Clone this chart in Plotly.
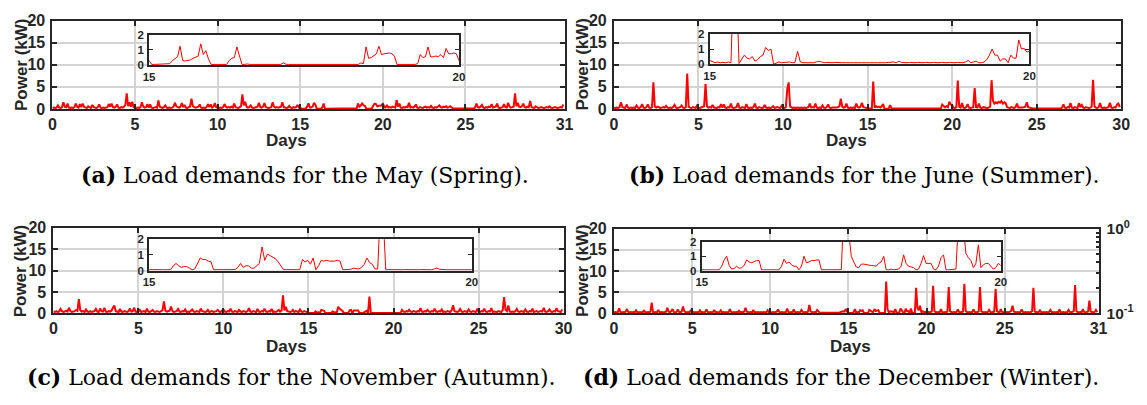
import numpy as np
import plotly.graph_objects as go

# Household load (kW), 2-hour samples, one row of 12 values per day
MAY_2H = [
    [0.2,0.3,0.2,0.3,0.8,0.3,0.2,0.4,1.5,0.5,0.4,1.2],
    [0.3,0.2,0.3,0.2,0.4,1.2,0.5,0.3,1.1,0.4,1.2,0.5],
    [0.3,0.2,0.6,0.3,0.2,0.9,0.4,0.3,0.2,0.4,1.0,0.3],
    [0.2,0.3,0.2,0.3,0.4,1.1,0.5,1.2,0.4,0.3,0.5,1.0],
    [0.3,0.2,0.4,0.3,0.5,0.9,3.5,0.6,1.5,0.5,1.6,0.4],
    [0.3,0.2,0.3,0.2,0.4,1.5,0.5,0.3,0.4,1.1,0.3,1.0],
    [0.3,0.2,0.3,0.4,0.3,1.9,0.5,0.3,0.2,0.4,0.8,0.3],
    [0.2,0.3,0.2,0.3,0.5,1.4,0.6,0.4,0.3,0.5,1.3,0.4],
    [0.9,0.3,0.2,0.4,0.5,2.3,0.6,0.4,0.3,0.4,0.5,1.0],
    [0.3,0.2,0.3,0.2,0.4,1.1,0.4,1.0,0.3,0.5,1.3,0.4],
    [0.3,0.2,0.3,0.2,0.4,1.1,0.5,0.3,0.4,0.3,0.5,0.3],
    [1.2,0.4,0.3,0.2,0.4,0.6,3.3,0.8,1.6,0.5,0.3,0.4],
    [0.8,0.3,0.2,0.3,0.4,0.5,1.4,0.4,0.3,0.5,1.3,0.4],
    [0.3,0.2,0.3,0.4,1.5,0.5,0.3,0.4,0.3,0.4,0.5,1.5],
    [0.4,0.3,0.2,0.3,0.7,0.3,0.2,0.4,0.3,0.4,0.9,0.3],
    [0.3,0.05,0.05,0.05,0.1,0.5,1.25,0.3,0.3,0.5,1.4,0.95],
    [0.05,0.05,0.05,0.05,0.3,1.2,0.05,0.05,0.05,0.1,0.05,0.05],
    [0.05,0.1,0.15,0.05,0.05,0.05,0.05,0.1,0.05,0.05,0.05,0.05],
    [0.05,0.05,0.05,0.1,0.05,0.15,1.2,0.5,0.8,1.25,0.8,0.7],
    [0.05,0.05,0.05,0.05,0.1,0.7,1.2,1.1,0.55,0.7,0.8,0.75],
    [1.3,0.4,0.3,0.9,0.3,0.4,0.3,0.5,0.4,0.3,2.0,0.5],
    [1.2,0.3,0.2,0.4,0.3,0.5,0.4,1.4,0.3,0.4,0.3,0.5],
    [1.0,0.3,0.2,0.4,0.3,0.2,0.4,0.5,0.3,0.4,0.3,0.7],
    [0.3,0.2,0.4,0.3,0.5,0.8,0.4,0.3,0.5,0.4,0.6,0.3],
    [0.4,0.6,0.3,0.1,0.1,0.1,0.1,0.1,0.1,0.1,0.1,0.1],
    [0.1,0.1,0.1,0.1,0.1,0.1,0.1,0.3,1.2,0.4,0.3,0.5],
    [0.9,0.3,0.2,0.4,0.3,0.5,0.4,1.1,0.3,0.4,0.5,1.2],
    [0.3,0.2,0.3,0.4,1.1,0.4,0.3,1.4,0.5,0.3,0.4,0.5],
    [3.5,0.6,1.4,0.5,0.4,0.6,1.2,0.4,0.3,0.5,0.4,1.8],
    [0.4,0.3,0.2,0.6,0.3,0.2,0.3,0.4,0.3,0.2,0.3,0.4],
    [0.3,0.6,0.3,0.2,0.3,0.4,0.3,0.2,0.3,0.4,0.3,1.0],
]

JUN_2H = [
    [0.3,0.2,0.3,0.2,0.4,1.5,0.4,0.3,0.2,1.0,0.3,0.2],
    [0.3,0.2,0.3,0.2,0.8,0.3,0.2,0.4,1.1,0.3,0.2,0.4],
    [1.0,0.3,0.2,0.4,6.0,0.5,0.3,0.5,0.3,0.2,0.3,0.4],
    [0.3,0.7,0.3,0.2,0.3,0.2,0.4,0.9,0.3,0.2,0.3,0.4],
    [0.8,0.3,0.2,0.4,8.0,0.5,0.3,0.2,0.4,0.3,0.2,0.8],
    [0.3,0.2,0.3,0.4,0.6,5.6,0.6,0.3,0.4,0.3,0.9,0.3],
    [0.3,0.2,0.4,0.3,1.1,0.3,1.0,0.3,0.2,0.4,0.3,1.2],
    [0.3,0.2,0.3,0.4,1.3,0.3,0.2,0.4,0.3,0.2,1.1,0.3],
    [0.2,0.3,0.2,0.4,1.2,0.3,0.2,0.4,0.3,0.2,0.3,0.9],
    [0.3,0.2,0.3,0.2,0.3,0.6,0.2,0.3,0.4,0.3,0.2,0.7],
    [0.3,0.2,0.4,4.5,6.0,0.5,0.3,0.2,0.3,0.2,0.3,0.2],
    [0.2,0.3,0.2,0.3,0.2,0.3,0.4,1.2,0.3,0.4,0.3,1.2],
    [0.3,0.2,0.3,0.2,0.8,0.3,0.2,0.4,1.0,0.3,0.2,0.3],
    [0.3,0.2,0.3,0.4,0.6,2.3,0.5,0.3,0.4,1.2,0.3,0.2],
    [0.3,0.2,0.3,0.2,1.2,0.4,0.3,0.5,1.4,0.4,0.3,0.2],
    [0.25,0.1,0.1,0.1,6.2,0.3,0.6,0.4,0.5,0.3,0.6,1.1],
    [0.05,0.1,0.1,0.1,0.85,0.1,0.1,0.1,0.2,0.1,0.1,0.1],
    [0.1,0.1,0.1,0.1,0.1,0.1,0.1,0.1,0.1,0.1,0.1,0.2],
    [0.1,0.1,0.1,0.1,0.1,0.1,0.1,0.1,0.1,0.1,0.1,0.1],
    [0.25,0.1,0.2,0.1,0.1,1.0,0.6,0.35,0.6,0.4,1.6,1.0],
    [0.85,0.3,0.2,0.4,6.4,0.5,0.3,1.3,0.3,0.2,0.4,1.1],
    [0.3,0.2,0.3,0.4,4.7,0.4,0.3,1.2,0.3,0.2,0.4,0.3],
    [0.3,0.2,0.3,0.5,6.5,1.8,1.2,1.5,1.3,1.6,1.4,1.8],
    [1.2,1.5,1.3,0.4,0.3,0.2,0.4,0.3,0.2,0.4,1.2,0.3],
    [0.3,0.2,0.3,0.4,0.5,1.5,0.4,0.3,0.1,0.1,0.1,0.1],
    [0.1,0.1,0.1,0.1,0.1,0.1,0.1,0.1,0.1,0.1,0.1,0.1],
    [0.1,0.1,0.1,0.1,0.1,0.1,0.3,1.0,0.3,0.2,0.4,0.3],
    [1.3,0.3,0.2,0.4,0.3,0.2,1.3,0.4,0.9,0.3,0.2,0.4],
    [0.3,0.2,0.3,0.5,6.6,0.6,0.3,0.2,0.4,1.3,0.3,0.2],
    [0.3,0.2,0.3,0.4,1.4,0.3,0.2,0.4,0.3,1.0,1.2,0.4],
]

NOV_2H = [
    [0.4,0.3,0.5,0.3,0.4,1.0,0.5,0.3,0.4,0.6,0.4,1.3],
    [0.5,0.3,0.4,0.5,0.8,0.6,3.3,0.7,0.4,0.5,0.3,0.9],
    [0.4,0.3,0.5,0.3,0.4,0.5,1.0,0.4,0.3,1.1,0.5,0.4],
    [1.3,0.4,0.3,0.5,0.4,0.6,1.3,1.8,0.5,0.4,0.3,1.0],
    [0.4,0.3,0.5,0.4,0.3,0.5,1.1,0.4,0.5,1.3,0.4,0.3],
    [0.4,0.8,0.3,0.4,0.5,0.3,1.1,0.4,0.3,0.5,0.8,0.4],
    [0.3,0.5,0.4,0.3,0.5,0.7,2.8,0.6,0.4,0.5,0.6,1.6],
    [0.5,0.3,0.4,0.5,1.0,0.4,0.3,0.5,0.4,0.9,0.3,0.4],
    [0.3,0.5,0.9,0.4,0.3,0.5,0.4,0.3,1.1,0.5,0.4,0.3],
    [0.4,0.8,0.3,0.4,0.5,0.3,0.4,0.5,0.8,0.4,0.3,0.5],
    [0.9,0.4,0.3,0.5,0.4,1.1,0.4,0.3,0.5,0.4,0.3,0.8],
    [0.4,0.3,0.5,0.4,0.3,0.5,1.2,0.4,0.3,0.5,0.4,0.3],
    [1.0,0.4,0.3,0.5,0.4,1.1,0.4,0.3,0.5,0.4,1.0,0.3],
    [0.4,0.3,0.5,0.8,0.4,0.6,4.2,0.7,1.5,0.5,0.4,0.3],
    [0.4,0.8,0.3,0.5,0.4,0.3,0.9,0.4,0.3,0.5,0.4,0.3],
    [0.05,0.05,0.05,0.05,0.05,0.45,0.2,0.25,0.05,0.8,0.7,0.6],
    [0.05,0.05,0.05,0.05,0.05,0.45,0.3,0.15,0.3,1.5,1.05,0.85],
    [0.55,0.05,0.05,0.05,0.05,0.7,0.8,0.05,0.65,0.65,0.6,0.65],
    [0.05,0.05,0.15,0.15,0.4,0.6,0.1,3.9,0.05,0.05,0.05,0.05],
    [0.05,0.05,0.05,0.05,0.05,0.15,0.05,0.05,0.05,0.05,0.05,0.05],
    [0.05,0.05,0.05,0.05,0.05,0.1,0.8,0.4,0.3,0.5,0.4,0.8],
    [0.4,0.3,0.5,0.4,0.3,0.5,0.4,1.2,0.4,0.3,0.5,0.4],
    [0.8,0.4,0.3,0.5,0.4,1.1,0.4,0.3,0.5,0.4,0.9,0.3],
    [0.4,0.3,0.5,0.4,0.3,0.7,1.9,0.5,0.4,0.3,0.5,1.0],
    [0.4,0.3,0.5,0.4,0.3,0.9,0.4,0.3,0.5,0.4,0.3,0.9],
    [0.4,0.3,0.5,0.4,1.1,0.4,0.3,0.5,0.4,1.2,0.3,0.4],
    [0.4,0.3,0.5,0.4,0.3,0.7,3.8,0.8,0.5,1.8,0.4,0.3],
    [0.4,0.3,0.5,1.0,0.4,0.3,0.5,0.4,0.3,0.9,0.4,0.3],
    [0.5,0.4,1.1,0.3,0.4,0.5,0.3,0.4,0.5,0.4,1.3,0.4],
    [0.3,0.5,0.9,0.4,0.3,0.5,0.4,1.2,0.5,0.4,0.3,0.9],
]

DEC_2H = [
    [0.2,0.3,0.2,0.3,1.2,0.3,0.2,0.3,0.2,0.4,1.0,0.3],
    [0.2,0.3,0.2,0.3,0.2,0.7,0.3,0.2,0.3,0.2,0.3,0.6],
    [0.3,0.2,0.3,0.2,0.4,2.5,0.3,0.2,0.3,0.2,0.8,0.3],
    [0.2,0.3,0.2,0.3,0.4,1.3,0.4,0.3,0.5,1.0,0.3,0.2],
    [0.3,0.9,0.3,0.2,0.4,1.6,0.5,0.3,0.2,0.3,0.2,0.8],
    [0.2,0.3,0.2,0.3,0.2,0.3,0.7,0.2,0.3,0.2,0.3,0.9],
    [0.3,0.2,0.3,0.2,0.3,0.8,0.2,0.3,0.2,0.3,0.7,0.2],
    [0.3,0.2,0.3,0.2,0.3,1.0,0.3,0.2,0.3,0.2,0.3,0.2],
    [0.6,0.2,0.3,0.2,0.4,1.3,0.4,0.3,0.2,0.3,0.2,0.8],
    [0.2,0.3,0.2,0.3,0.2,0.3,0.2,0.3,0.2,0.3,0.7,0.2],
    [0.3,0.2,0.3,0.2,0.3,0.4,0.9,0.3,0.2,0.3,0.2,0.3],
    [0.3,1.1,0.3,0.2,0.3,0.2,0.9,0.3,0.2,0.3,0.2,0.3],
    [0.8,0.3,0.2,0.3,0.2,0.4,2.0,0.4,0.3,0.2,0.3,0.2],
    [0.8,0.3,0.1,0.1,0.1,0.1,0.1,0.1,0.1,0.1,0.1,0.1],
    [0.1,0.1,0.1,0.1,0.1,0.1,0.3,0.4,0.5,0.4,1.0,0.4],
    [0.05,0.05,0.05,0.05,0.3,1.0,0.1,0.3,0.2,0.75,0.55,0.7],
    [0.05,0.05,0.05,0.05,0.8,0.5,0.4,0.3,1.0,0.55,0.7,0.75],
    [0.05,0.05,0.05,0.05,0.05,7.5,1.0,0.25,0.45,0.4,0.35,0.3],
    [1.0,0.05,0.1,0.1,1.1,0.5,0.25,0.05,1.05,0.5,0.5,0.05],
    [1.1,0.05,0.05,0.1,6.0,1.2,0.7,1.8,0.2,0.5,0.3,0.2],
    [0.5,0.3,0.2,0.3,0.4,6.5,0.5,0.3,0.2,0.3,0.2,1.0],
    [0.3,0.2,0.3,0.2,0.4,6.2,0.5,0.3,0.2,0.3,0.2,0.3],
    [0.9,0.3,0.2,0.3,0.4,7.0,0.6,0.3,0.2,0.3,0.2,0.3],
    [0.9,0.3,0.2,0.3,0.4,6.2,0.5,0.3,0.2,0.3,0.2,0.3],
    [0.8,0.3,0.2,0.3,0.4,5.8,0.5,0.3,0.2,1.0,0.3,0.2],
    [0.3,0.2,0.3,0.2,0.4,0.6,1.8,0.4,0.3,0.2,0.3,0.2],
    [0.3,0.9,0.3,0.2,0.3,0.2,0.3,0.2,0.3,0.5,6.0,0.4],
    [0.3,0.2,0.3,0.7,0.3,0.2,0.3,0.2,0.3,0.2,0.3,0.8],
    [0.3,0.2,0.3,0.2,0.3,0.2,0.9,0.3,0.2,0.3,0.2,0.3],
    [0.3,0.8,0.3,0.2,0.3,0.5,6.7,0.5,0.3,0.2,0.3,0.2],
    [1.0,0.3,0.2,0.3,0.4,3.0,0.4,0.3,0.2,0.3,0.8,0.3],
]

# Hourly load (kW) for days 15 to 20, one row of 24 values per day, plus the day-20 point
MAY_ZOOM = [
    [0.3,0.05,0.05,0.06,0.05,0.05,0.06,0.05,0.1,0.3,0.4,0.55,1.25,0.3,0.28,0.3,0.35,0.45,0.5,0.6,1.4,0.7,0.95,0.4],
    [0.05,0.05,0.06,0.05,0.05,0.06,0.05,0.3,0.45,0.5,1.2,0.6,0.05,0.05,0.08,0.05,0.05,0.06,0.05,0.08,0.05,0.05,0.06,0.05],
    [0.05,0.08,0.05,0.05,0.15,0.06,0.05,0.05,0.08,0.05,0.05,0.06,0.05,0.05,0.08,0.05,0.05,0.06,0.05,0.05,0.08,0.05,0.05,0.06],
    [0.05,0.05,0.08,0.05,0.05,0.06,0.05,0.05,0.08,0.05,0.15,0.1,1.2,0.45,0.5,0.6,0.75,1.25,0.7,0.75,0.8,0.8,0.75,0.6],
    [0.05,0.05,0.06,0.05,0.05,0.06,0.05,0.05,0.1,0.7,0.5,0.55,1.2,0.55,0.55,0.6,0.55,0.7,0.5,1.1,0.75,0.75,0.8,0.75],
    [0.3],
]
JUN_ZOOM = [
    [0.25,0.2,0.1,0.15,0.1,0.12,0.1,0.15,0.1,6.2,5.8,0.05,0.3,0.6,0.4,0.35,0.5,0.2,0.3,0.5,0.6,1.1,0.9,1.0],
    [0.0,0.1,0.15,0.1,0.12,0.1,0.15,0.1,0.12,0.85,0.15,0.1,0.1,0.12,0.1,0.1,0.15,0.2,0.15,0.1,0.12,0.1,0.1,0.12],
    [0.1,0.12,0.1,0.1,0.12,0.1,0.1,0.12,0.1,0.1,0.12,0.1,0.1,0.12,0.1,0.1,0.12,0.1,0.1,0.12,0.1,0.15,0.1,0.2],
    [0.12,0.1,0.1,0.12,0.1,0.1,0.12,0.1,0.1,0.12,0.1,0.1,0.12,0.1,0.1,0.12,0.1,0.1,0.12,0.1,0.1,0.12,0.1,0.1],
    [0.15,0.25,0.1,0.15,0.2,0.1,0.1,0.15,0.3,0.6,1.0,0.6,0.6,0.2,0.35,0.35,0.1,0.6,0.4,0.4,1.6,1.0,1.05,0.8],
    [0.85],
]
NOV_ZOOM = [
    [0.05,0.06,0.05,0.05,0.06,0.05,0.05,0.06,0.05,0.3,0.45,0.3,0.2,0.25,0.25,0.15,0.05,0.1,0.5,0.8,0.7,0.7,0.6,0.55],
    [0.05,0.05,0.06,0.05,0.05,0.06,0.05,0.05,0.06,0.2,0.45,0.2,0.3,0.3,0.15,0.15,0.3,0.45,1.5,0.65,1.05,0.95,0.85,0.75],
    [0.55,0.3,0.05,0.06,0.05,0.05,0.06,0.05,0.05,0.7,0.55,0.65,0.4,0.8,0.05,0.3,0.65,0.6,0.65,0.6,0.6,0.6,0.65,0.6],
    [0.05,0.05,0.05,0.08,0.15,0.1,0.1,0.2,0.4,0.8,0.5,0.4,0.1,0.1,3.9,3.6,0.05,0.06,0.05,0.05,0.06,0.05,0.05,0.06],
    [0.05,0.05,0.06,0.05,0.05,0.06,0.05,0.05,0.06,0.05,0.1,0.15,0.08,0.05,0.06,0.05,0.05,0.06,0.05,0.05,0.06,0.05,0.05,0.06],
    [0.05],
]
DEC_ZOOM = [
    [0.05,0.06,0.05,0.05,0.06,0.05,0.05,0.06,0.3,0.75,1.0,0.35,0.1,0.15,0.3,0.15,0.2,0.35,0.75,0.6,0.55,0.65,0.7,0.7],
    [0.05,0.05,0.06,0.05,0.05,0.06,0.05,0.05,0.3,0.8,0.5,0.6,0.4,0.3,0.3,0.05,0.3,1.0,0.55,0.6,0.7,0.7,0.75,0.75],
    [0.05,0.05,0.06,0.05,0.05,0.06,0.05,0.05,0.06,4.5,7.5,2.6,1.0,0.6,0.25,0.2,0.45,0.45,0.4,0.4,0.35,0.35,0.3,0.5],
    [0.6,1.0,0.05,0.05,0.1,0.05,0.1,0.1,0.3,1.1,0.5,0.3,0.25,0.2,0.05,0.1,0.5,1.05,0.5,0.5,0.5,0.1,0.05,0.3],
    [0.9,1.1,0.05,0.05,0.05,0.05,0.1,3.5,6.0,3.0,1.2,0.9,0.7,0.2,0.5,1.8,0.2,0.4,0.5,0.5,0.3,0.1,0.2,0.5],
    [0.35],
]

CAPTIONS = [
    "<b>(a)</b> Load demands for the May (Spring).",
    "<b>(b)</b> Load demands for the June (Summer).",
    "<b>(c)</b> Load demands for the November (Autumn).",
    "<b>(d)</b> Load demands for the December (Winter).",
]
X_TITLE = "Days"
Y_TITLE = "Power (kW)"
X_TICKS_31 = [0, 5, 10, 15, 20, 25, 31]
X_TICKS_30 = [0, 5, 10, 15, 20, 25, 30]
Y_TICKS = [0, 5, 10, 15, 20]
INSET_X_TICKS = [15, 20]
INSET_Y_TICKS = [0, 1, 2]
LOG_TICKS = [0.1, 1]
LOG_TICK_TEXT = ["10<sup>-1</sup>", "10<sup>0</sup>"]

# ---- page geometry (pixels from the top-left corner) ----
W, H = 1147, 405
AX_COLOR = "#262626"
GRID = "#d4d4d4"
SANS = "Liberation Sans, Arial, sans-serif"


def px(x):
    return x / W


def py(y):
    return 1 - y / H


def xdom(left, right):
    return [px(left), px(right)]


def ydom(top, bottom):
    return [py(bottom), py(top)]


panels = [
    dict(series=MAY_2H, zoom=MAY_ZOOM, days=31, xt=X_TICKS_31,
         main=(47, 566, 10, 103), inset=(145, 459, 25, 57),
         xlab=(284, 136), ylab=(15, 56), cap=(303, 172)),
    dict(series=JUN_2H, zoom=JUN_ZOOM, days=30, xt=X_TICKS_30,
         main=(616, 1130, 10, 103), inset=(713, 1037, 24, 56),
         xlab=(852, 136), ylab=(584, 56), cap=(870, 172)),
    dict(series=NOV_2H, zoom=NOV_ZOOM, days=30, xt=X_TICKS_30,
         main=(48, 565, 228, 318), inset=(145, 472, 240, 273),
         xlab=(284, 353), ylab=(15, 273), cap=(289, 385)),
    dict(series=DEC_2H, zoom=DEC_ZOOM, days=31, xt=X_TICKS_31,
         main=(616, 1107, 229, 318), inset=(705, 1008, 243, 273),
         xlab=(856, 353), ylab=(584, 273), cap=(846, 385)),
]

fig = go.Figure()
layout = dict(
    width=W, height=H, margin=dict(l=0, r=0, t=0, b=0),
    paper_bgcolor="white", plot_bgcolor="white", showlegend=False,
    annotations=[],
)

tick_font = dict(family=SANS, size=16, color=AX_COLOR, weight="bold")
title_font = dict(family=SANS, size=17, color=AX_COLOR, weight="bold")
inset_font = dict(family=SANS, size=11.5, color=AX_COLOR, weight="bold")

for i, p in enumerate(panels):
    m_id = 2 * i + 1
    z_id = 2 * i + 2
    mx = "x" if m_id == 1 else f"x{m_id}"
    my = "y" if m_id == 1 else f"y{m_id}"
    zx, zy = f"x{z_id}", f"y{z_id}"
    mkx = "xaxis" if m_id == 1 else f"xaxis{m_id}"
    mky = "yaxis" if m_id == 1 else f"yaxis{m_id}"

    load = np.array(p["series"], dtype=float).ravel()
    t = np.arange(load.size) / 12.0
    fig.add_trace(go.Scatter(x=t, y=load, mode="lines", xaxis=mx, yaxis=my,
                             line=dict(color="#ff0000", width=2), hoverinfo="skip"))

    zload = np.concatenate([np.array(r, dtype=float) for r in p["zoom"]])
    zt = 15 + np.arange(zload.size) / 24.0
    fig.add_trace(go.Scatter(x=zt, y=zload, mode="lines", xaxis=zx, yaxis=zy,
                             line=dict(color="#ff0000", width=1), hoverinfo="skip"))

    l, r, top, bot = p["main"]
    layout[mkx] = dict(
        domain=xdom(l, r), anchor=my, range=[0, p["days"]], tickvals=p["xt"],
        ticks="inside", ticklen=5, tickwidth=1.5, tickcolor=AX_COLOR,
        showline=True, linecolor=AX_COLOR, linewidth=2, mirror="ticks",
        showgrid=True, gridcolor=GRID, gridwidth=1.5, zeroline=False,
        tickfont=tick_font, ticklabelstandoff=0,
    )
    layout[mky] = dict(
        domain=ydom(top, bot), anchor=mx, range=[0, 20], tickvals=Y_TICKS,
        ticks="inside", ticklen=5, tickwidth=1.5, tickcolor=AX_COLOR,
        showline=True, linecolor=AX_COLOR, linewidth=2,
        mirror=True if i == 3 else "ticks",
        showgrid=True, gridcolor=GRID, gridwidth=1.5, zeroline=False,
        tickfont=tick_font, ticklabelstandoff=2,
    )

    il, ir, itop, ibot = p["inset"]
    layout[f"xaxis{z_id}"] = dict(
        domain=xdom(il, ir), anchor=zy, range=[15, 20], tickvals=INSET_X_TICKS,
        ticks="inside", ticklen=3, tickcolor=AX_COLOR,
        showline=True, linecolor=AX_COLOR, linewidth=2, mirror="ticks",
        showgrid=False, zeroline=False, tickfont=inset_font, ticklabelstandoff=0,
    )
    layout[f"yaxis{z_id}"] = dict(
        domain=ydom(itop, ibot), anchor=zx, range=[0, 2], tickvals=INSET_Y_TICKS,
        ticks="inside", ticklen=4, tickcolor=AX_COLOR,
        showline=True, linecolor=AX_COLOR, linewidth=2, mirror="ticks",
        showgrid=False, zeroline=False,
        tickfont=inset_font, ticklabelstandoff=1,
    )

    # axis titles
    xlx, xly = p["xlab"]
    layout["annotations"].append(dict(
        text=X_TITLE, x=px(xlx), y=py(xly), xref="paper", yref="paper",
        xanchor="center", yanchor="middle", showarrow=False, font=title_font,
    ))
    ylx, yly = p["ylab"]
    layout["annotations"].append(dict(
        text=Y_TITLE, x=px(ylx), y=py(yly), xref="paper", yref="paper",
        xanchor="center", yanchor="middle", showarrow=False, textangle=-90,
        font=title_font,
    ))

    cx, cy = p["cap"]
    layout["annotations"].append(dict(
        text=CAPTIONS[i], x=px(cx), y=py(cy), xref="paper", yref="paper",
        xanchor="center", yanchor="middle", showarrow=False,
        font=dict(family="DejaVu Serif, serif", size=22, color="black"),
    ))

# logarithmic right-hand axis on the December panel
fig.add_trace(go.Scatter(x=[], y=[], mode="lines", xaxis="x7", yaxis="y9",
                         hoverinfo="skip"))
layout["yaxis9"] = dict(
    overlaying="y7", anchor="x7", side="right", type="log", range=[-1, 0],
    tickvals=LOG_TICKS, ticktext=LOG_TICK_TEXT, ticks="inside", ticklen=6,
    tickwidth=1.5, tickcolor=AX_COLOR, showgrid=False, zeroline=False,
    showline=True, linecolor=AX_COLOR, linewidth=2,
    minor=dict(ticks="inside", ticklen=3, tickcolor=AX_COLOR,
               tickvals=[0.2, 0.3, 0.4, 0.5, 0.6, 0.7, 0.8, 0.9]),
    tickfont=dict(family=SANS, size=15.5, color=AX_COLOR, weight="bold"),
    ticklabelstandoff=3,
)

fig.update_layout(**layout)
fig.write_html("out.html")
